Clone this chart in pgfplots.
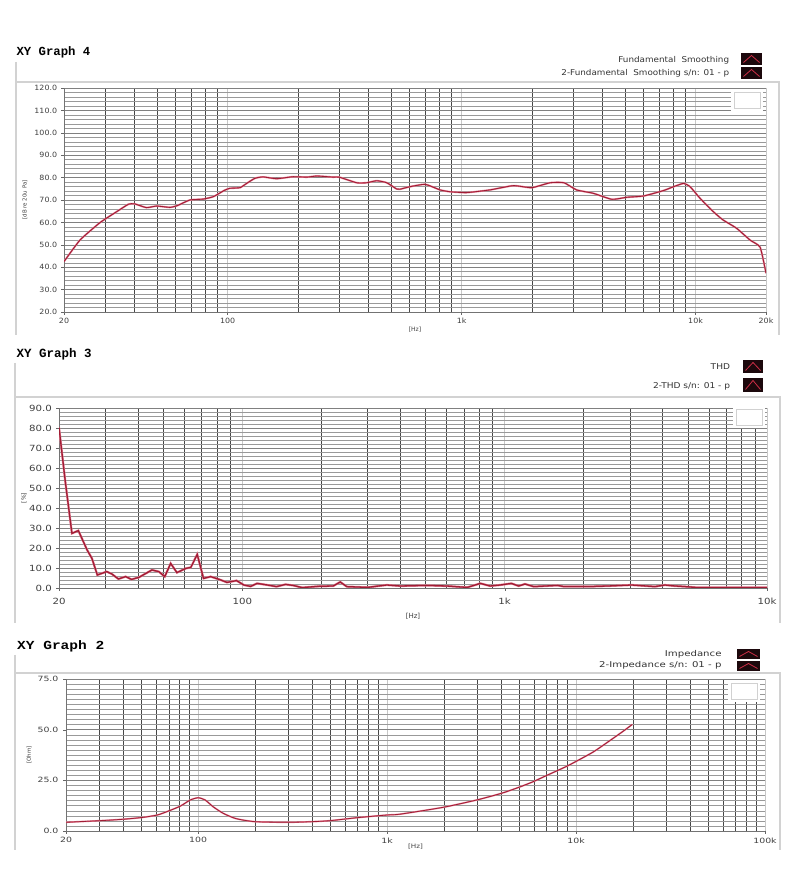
\documentclass[border=0pt]{standalone}
\usepackage{fontspec}
\setmainfont{DejaVu Sans}
\newfontfamily\titlefont{Liberation Mono}
\usepackage{pgfplots}
\pgfplotsset{compat=1.18}
\usepackage{pgfplotstable}

\definecolor{curve}{RGB}{160,28,52}
\definecolor{curvelight}{RGB}{228,130,150}
\definecolor{panel}{RGB}{210,210,210}
\definecolor{swbg}{RGB}{28,8,12}
\definecolor{swln}{RGB}{205,45,70}

\pgfplotstableread{
f v
20 42.5
23.4 52.1
28.5 59.9
33.6 64.8
37.7 68.1
40 68.3
45 66.6
49.8 67.3
56.7 66.7
61 67.5
69 70.0
78.6 70.4
87 71.5
96.5 74.2
102 75.2
113 75.5
120.6 77.4
131 79.7
142 80.3
162 79.5
191 80.4
218 80.2
241 80.7
283 80.2
300 80.2
356 77.7
393 77.7
434 78.6
479 77.7
528 74.9
545 74.8
600 75.9
699 77.0
809 74.5
890 73.7
1050 73.3
1322 74.5
1664 76.4
1995 75.5
2390 77.7
2740 77.7
3100 74.5
3650 73.0
4390 70.3
5080 71.2
6000 71.8
7290 74.2
8040 75.9
8880 77.4
9480 75.9
10460 70.7
11900 64.8
13100 61.1
14960 57.4
17100 52.1
18880 48.9
20000 37.3
}\gfour

\pgfplotstableread{
f v
20 80.3
21.1 54
22.4 27.3
23.7 28.7
25.6 19
26.7 14.8
28.0 6.5
30.4 8.2
31.8 7.0
33.7 4.5
35.9 5.7
37.8 4.3
40.3 5.3
45.2 9.0
48.0 8.2
50.6 5.7
53.3 12.3
56.3 7.7
60.9 9.8
63.6 10.3
67.3 16.8
71.1 4.8
75.7 5.7
81.6 4.3
87.4 2.8
95 3.7
101.3 1.5
107.5 0.8
113.8 2.3
124.6 1.5
135 0.7
146 1.8
156 1.3
169 0.2
193 0.8
222 1.0
236 3.0
250 0.7
300 0.3
355 1.5
400 1.0
505 1.3
600 1.0
720 0.3
808 2.3
880 1.0
962 1.5
1060 2.3
1130 1.0
1195 2.0
1290 0.7
1590 1.3
1683 0.7
2070 0.7
2475 1.0
3050 1.5
3740 0.7
4080 1.5
4460 1.0
4880 0.7
5320 0.3
6000 0.2
8000 0.2
10000 0.2
}\gthree

\pgfplotstableread{
f v
20 4.3
30.3 5.1
40.2 5.8
50.8 6.7
60.9 7.9
69.9 9.9
80.6 12.3
90.9 15.3
100 16.4
109 15.3
120 12.0
136 8.7
159 6.1
200 4.6
300 4.3
400 4.6
500 5.1
700 6.6
1000 7.9
1170 8.3
1984 11.7
2980 15.3
4030 18.6
4930 21.4
5920 24.3
6950 27.3
7970 29.8
9000 32.1
10170 34.7
12380 39.1
15100 44.6
17800 49.3
19860 52.6
}\gtwo

\pgfplotsset{
  every axis/.append style={
    scale only axis,
    grid=both,
    axis x line*=bottom, axis y line*=left,
    tick align=outside,
    major tick length=3pt, minor tick length=0pt,
  },
  every axis x label/.style={at={(axis description cs:0.5,0)}, anchor=center, text=black!75},
  every axis y label/.style={rotate=90, anchor=center, text=black!75},
}

\newcommand{\swatch}[4]{% x, ytop, width, height
  \fill[swbg] (#1,#2) rectangle ++(#3,-#4);
  \draw[swln, line width=0.8pt] (#1,#2) ++(2.5,-#4+2.5) -- ++(#3/2-2.5,#4-5) -- ++(#3/2-2.5,-#4+5);
}
\newcommand{\logo}[2]{%
  \fill[white] (#1,#2) rectangle ++(32,-22);
  \draw[black!18, line width=0.8pt] (#1+3,#2-3) rectangle ++(26,-16);
}

\begin{document}
\begin{tikzpicture}[x=1pt,y=1pt]
\fill[white] (0,0) rectangle (800,875);

% ---------------- Graph 4 ----------------
\draw[panel, line width=1.2pt] (16,813) -- (16,540);
\draw[panel, line width=1.2pt] (16,793) -- (779,793) -- (779,540);
\node[anchor=west, font=\titlefont\bfseries\fontsize{12.3}{13}\selectfont] at (13,823) {XY Graph 4};
\node[anchor=east, xscale=1.1, font=\fontsize{8}{9}\selectfont, text=black!80] at (733,815) {Fundamental\ \ Smoothing};
\node[anchor=east, xscale=1.1, font=\fontsize{8}{9}\selectfont, text=black!80] at (733,802) {2-Fundamental\ \ Smoothing s/n: 01 - p};
\swatch{741}{822}{21}{12}
\swatch{741}{808}{21}{12}
\begin{axis}[xmode=log, anchor=south west, at={(64pt,563pt)}, width=702pt, height=224pt,
  axis line style={black!55}, tick style={black!60},
  major x grid style={black!22, line width=0.6pt},
  minor x grid style={black!72, line width=0.6pt},
  major y grid style={black!50, line width=0.4pt},
  minor y grid style={black!40, line width=0.4pt},
  xmin=20, xmax=20000, ymin=20, ymax=120,
  ytick={20,30,...,120}, minor y tick num=4,
  xtick={20,100,1000,10000,20000}, xticklabels={20,100,1k,10k,20k},
  minor xtick={30,40,50,60,70,80,90,200,300,400,500,600,700,800,900,2000,3000,4000,5000,6000,7000,8000,9000},
  yticklabel style={/pgf/number format/fixed, /pgf/number format/fixed zerofill, /pgf/number format/precision=1, /pgf/number format/assume math mode=true},
  tick label style={font=\fontsize{7.2}{8}\selectfont, text=black!75, xscale=1.1},
  xlabel={[Hz]}, xlabel style={yshift=-18pt, font=\fontsize{6}{7}\selectfont},
  ylabel={[dB re 20u Pa]}, ylabel style={at={(axis description cs:-0.0556,0.5)}, font=\fontsize{5.5}{6}\selectfont},
]
\addplot[curvelight, line width=1.8pt, smooth, tension=0.3] table[x=f, y=v] {\gfour};
\addplot[curve, line width=0.9pt, smooth, tension=0.3] table[x=f, y=v] {\gfour};
\end{axis}
\logo{731}{786}

% ---------------- Graph 3 ----------------
\draw[panel, line width=1.2pt] (15,512) -- (15,252);
\draw[panel, line width=1.2pt] (15,478) -- (780,478) -- (780,252);
\node[anchor=west, font=\titlefont\bfseries\fontsize{12.5}{13}\selectfont] at (13,521) {XY Graph 3};
\node[anchor=east, xscale=1.13, font=\fontsize{8}{9}\selectfont, text=black!80] at (734,508) {THD};
\node[anchor=east, xscale=1.13, font=\fontsize{8}{9}\selectfont, text=black!80] at (734,489) {2-THD s/n: 01 - p};
\swatch{743}{515}{20}{13}
\swatch{743}{497}{20}{14}
\begin{axis}[xmode=log, anchor=south west, at={(59pt,287pt)}, width=708pt, height=180pt,
  axis line style={black!55}, tick style={black!60},
  major x grid style={black!22, line width=0.6pt},
  minor x grid style={black!72, line width=0.6pt},
  major y grid style={black!50, line width=0.4pt},
  minor y grid style={black!40, line width=0.4pt},
  xmin=20, xmax=10000, ymin=0, ymax=90,
  ytick={0,10,...,90}, minor y tick num=4,
  xtick={20,100,1000,10000}, xticklabels={20,100,1k,10k},
  minor xtick={30,40,50,60,70,80,90,200,300,400,500,600,700,800,900,2000,3000,4000,5000,6000,7000,8000,9000},
  yticklabel style={/pgf/number format/fixed, /pgf/number format/fixed zerofill, /pgf/number format/precision=1, /pgf/number format/assume math mode=true},
  tick label style={font=\fontsize{8.5}{9}\selectfont, text=black!75, xscale=1.2},
  xticklabel style={yshift=-4pt},
  xlabel={[Hz]}, xlabel style={yshift=-28pt, font=\fontsize{7}{8}\selectfont},
  ylabel={[\%]}, ylabel style={at={(axis description cs:-0.0494,0.5)}, font=\fontsize{6}{7}\selectfont},
]
\addplot[curvelight, line width=2.2pt] table[x=f, y=v] {\gthree};
\addplot[curve, line width=1.3pt] table[x=f, y=v] {\gthree};
\end{axis}
\logo{733}{469}

% ---------------- Graph 2 ----------------
\draw[panel, line width=1.2pt] (15,220) -- (15,25);
\draw[panel, line width=1.2pt] (15,202) -- (780,202) -- (780,25);
\node[anchor=west, xscale=1.18, font=\titlefont\bfseries\fontsize{12.3}{13}\selectfont] at (13,229) {XY Graph 2};
\node[anchor=east, xscale=1.27, font=\fontsize{8}{9}\selectfont, text=black!80] at (726,221) {Impedance};
\node[anchor=east, xscale=1.27, font=\fontsize{8}{9}\selectfont, text=black!80] at (726,210) {2-Impedance s/n: 01 - p};
\swatch{737}{226}{23}{10}
\swatch{737}{214}{23}{10}
\begin{axis}[xmode=log, anchor=south west, at={(66pt,44pt)}, width=699pt, height=152pt,
  axis line style={black!55}, tick style={black!60},
  major x grid style={black!22, line width=0.6pt},
  minor x grid style={black!72, line width=0.6pt},
  major y grid style={black!50, line width=0.4pt},
  minor y grid style={black!40, line width=0.4pt},
  xmin=20, xmax=100000, ymin=0, ymax=75,
  ytick={0,25,50,75}, minor y tick num=9,
  xtick={20,100,1000,10000,100000}, xticklabels={20,100,1k,10k,100k},
  minor xtick={30,40,50,60,70,80,90,200,300,400,500,600,700,800,900,2000,3000,4000,5000,6000,7000,8000,9000,20000,30000,40000,50000,60000,70000,80000,90000},
  yticklabel style={/pgf/number format/fixed, /pgf/number format/fixed zerofill, /pgf/number format/precision=1, /pgf/number format/assume math mode=true},
  tick label style={font=\fontsize{7.2}{8}\selectfont, text=black!75, xscale=1.3},
  xlabel={[Hz]}, xlabel style={yshift=-16pt, font=\fontsize{6}{7}\selectfont, xscale=1.2},
  ylabel={[Ohm]}, ylabel style={at={(axis description cs:-0.0529,0.5)}, font=\fontsize{5.5}{6}\selectfont},
]
\addplot[curvelight, line width=1.6pt, smooth, tension=0.4] table[x=f, y=v] {\gtwo};
\addplot[curve, line width=0.8pt, smooth, tension=0.4] table[x=f, y=v] {\gtwo};
\end{axis}
\logo{728}{195}

\pgfresetboundingbox
\path (0,0) rectangle (800,875);
\end{tikzpicture}
\end{document}
